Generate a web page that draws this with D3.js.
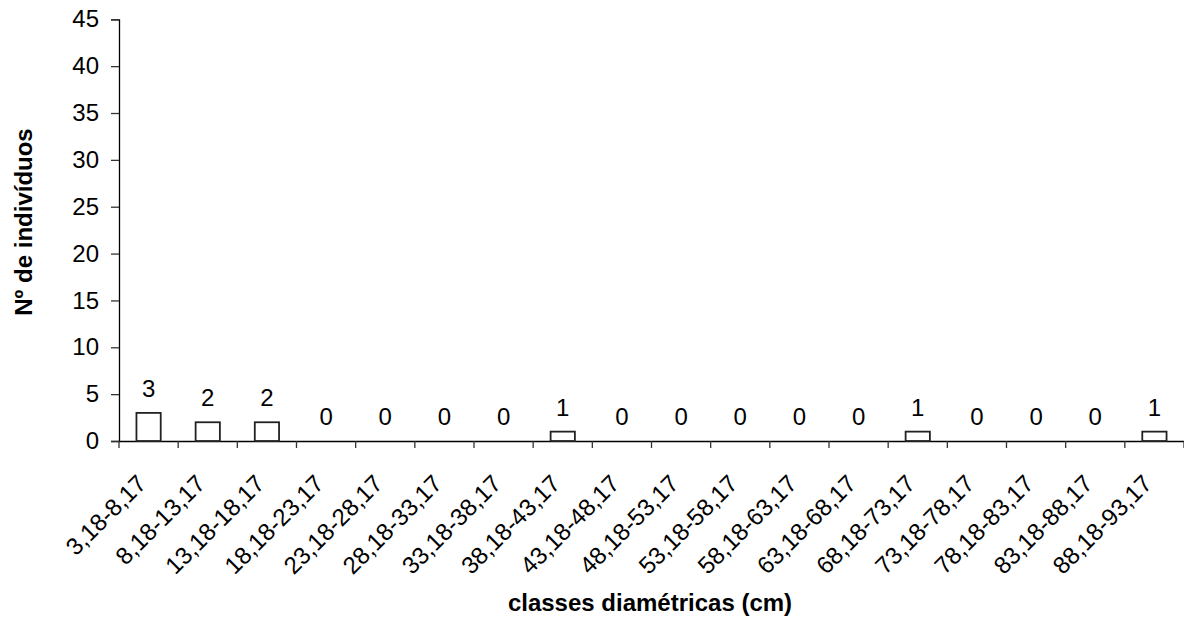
<!DOCTYPE html>
<html><head><meta charset="utf-8">
<script src="https://cdn.jsdelivr.net/npm/d3@7"></script>
<style>
body{margin:0;background:#fff;}
text{font-family:"Liberation Sans",Arial,sans-serif;fill:#000;}
</style></head>
<body><svg id="c" width="1184" height="621"></svg>
<script>
const categories = ["3,18-8,17","8,18-13,17","13,18-18,17","18,18-23,17","23,18-28,17","28,18-33,17","33,18-38,17","38,18-43,17","43,18-48,17","48,18-53,17","53,18-58,17","58,18-63,17","63,18-68,17","68,18-73,17","73,18-78,17","78,18-83,17","83,18-88,17","88,18-93,17"];
const values = [3,2,2,0,0,0,0,1,0,0,0,0,0,1,0,0,0,1];
const yTicks = [0,5,10,15,20,25,30,35,40,45];
const xTitle = "classes diamétricas (cm)";
const yTitle = "Nº de indivíduos";

(function(){
const svg = d3.select("#c");
const mL = 119, mR = 1184, mT = 19.3, mB = 441;
const fs = "24px";
const x = d3.scaleBand().domain(categories).range([mL, mR]).paddingInner(0).paddingOuter(0);
const y = d3.scaleLinear().domain([0,45]).range([mB, mT]);
const barW = x.bandwidth() * 0.41;

const ya = svg.append("g").attr("transform", `translate(${mL},0)`)
  .call(d3.axisLeft(y).tickValues(yTicks).tickSize(8).tickPadding(12));
ya.select(".domain").attr("stroke", "#000").attr("stroke-width", 1.3);
ya.selectAll(".tick line").attr("stroke", "#333").attr("stroke-width", 1.3);
ya.selectAll("text").style("font-size", fs).attr("fill", "#000")
  .style("font-family", "'Liberation Sans',Arial,sans-serif");

const xa = svg.append("g").attr("transform", `translate(0,${mB})`)
  .call(d3.axisBottom(x).tickSize(0).tickFormat(""));
xa.select(".domain").attr("stroke", "#000").attr("stroke-width", 1.3);
const bounds = categories.map(c => x(c)).concat([mR]);
svg.append("g").selectAll("line").data(bounds).join("line")
  .attr("x1", d => d).attr("x2", d => d)
  .attr("y1", mB).attr("y2", mB + 7)
  .attr("stroke", "#333").attr("stroke-width", 1.3);

svg.append("g").selectAll("text").data(categories).join("text")
  .attr("transform", d => `translate(${x(d) + x.bandwidth()/2 - 1},${mB + 44}) rotate(-45)`)
  .attr("text-anchor", "end")
  .style("font-size", fs)
  .text(d => d);

svg.append("g").selectAll("rect").data(values).join("rect")
  .attr("x", (d,i) => x(categories[i]) + x.bandwidth()/2 - barW/2)
  .attr("y", d => y(d))
  .attr("width", barW)
  .attr("height", d => mB - y(d))
  .attr("fill", "#fff").attr("stroke", "#222").attr("stroke-width", 1.8)
  .style("display", d => d > 0 ? null : "none");

svg.append("g").selectAll("text").data(values).join("text")
  .attr("x", (d,i) => x(categories[i]) + x.bandwidth()/2)
  .attr("y", d => y(d) - 16)
  .attr("text-anchor", "middle")
  .style("font-size", fs)
  .text(d => d);

svg.append("text").attr("x", 650).attr("y", 611)
  .attr("text-anchor", "middle").style("font-size", fs).style("font-weight", "bold")
  .text(xTitle);
svg.append("text").attr("transform", `translate(32,222) rotate(-90)`)
  .attr("text-anchor", "middle").style("font-size", fs).style("font-weight", "bold")
  .text(yTitle);
})();
</script></body></html>
